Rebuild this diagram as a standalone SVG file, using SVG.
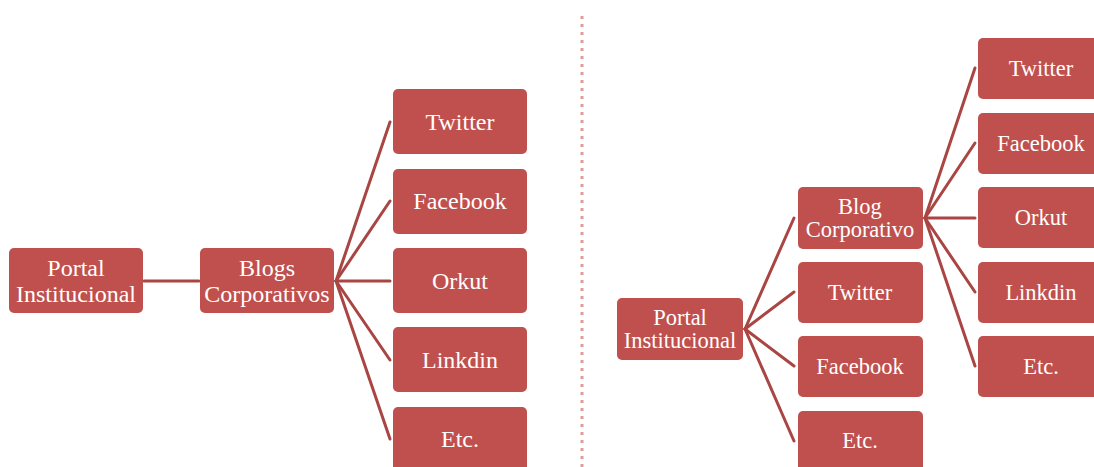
<svg xmlns="http://www.w3.org/2000/svg" width="1094" height="467" viewBox="0 0 1094 467">
  <style>
    .box { fill: #c0504d; }
    .lbl { fill: #ffffff; font-family: "Liberation Serif", "Times New Roman", serif; text-anchor: middle; }
    .l23 { font-size: 24px; }
    .l21 { font-size: 22.5px; }
    .conn { stroke: #a94542; stroke-width: 3; fill: none; stroke-linecap: round; }
    .sep { stroke: #e09c9c; stroke-width: 3; stroke-dasharray: 3 5; fill: none; }
  </style>

  <rect width="1094" height="467" fill="#ffffff"/>

  <!-- vertical separator -->
  <line class="sep" x1="582" y1="16" x2="582" y2="467"/>

  <!-- connectors -->
  <g id="connectors">
    <!-- left tree -->
    <line class="conn" x1="144" y1="281" x2="199" y2="281"/>
    <line class="conn" x1="336" y1="281" x2="390" y2="122"/>
    <line class="conn" x1="336" y1="281" x2="390" y2="201"/>
    <line class="conn" x1="336" y1="281" x2="390" y2="281"/>
    <line class="conn" x1="336" y1="281" x2="390" y2="360"/>
    <line class="conn" x1="336" y1="281" x2="390" y2="439"/>
    <!-- right tree -->
    <line class="conn" x1="745" y1="329" x2="794" y2="218"/>
    <line class="conn" x1="745" y1="329" x2="794" y2="292"/>
    <line class="conn" x1="745" y1="329" x2="794" y2="366"/>
    <line class="conn" x1="745" y1="329" x2="794" y2="441"/>
    <line class="conn" x1="925" y1="218" x2="975" y2="68"/>
    <line class="conn" x1="925" y1="218" x2="975" y2="143"/>
    <line class="conn" x1="925" y1="218" x2="975" y2="218"/>
    <line class="conn" x1="925" y1="218" x2="975" y2="292"/>
    <line class="conn" x1="925" y1="218" x2="975" y2="366"/>
  </g>

  <!-- left tree nodes -->
  <g id="l-portal">
    <rect class="box" x="9" y="248" width="134" height="65" rx="5"/>
    <text class="lbl l23" x="76" y="276">Portal</text>
    <text class="lbl l23" x="76" y="302">Institucional</text>
  </g>
  <g id="l-blogs">
    <rect class="box" x="200" y="248" width="134" height="65" rx="5"/>
    <text class="lbl l23" x="267" y="276">Blogs</text>
    <text class="lbl l23" x="267" y="302">Corporativos</text>
  </g>
  <g id="l-twitter">
    <rect class="box" x="393" y="89" width="134" height="65" rx="5"/>
    <text class="lbl l23" x="460" y="130">Twitter</text>
  </g>
  <g id="l-facebook">
    <rect class="box" x="393" y="169" width="134" height="65" rx="5"/>
    <text class="lbl l23" x="460" y="209">Facebook</text>
  </g>
  <g id="l-orkut">
    <rect class="box" x="393" y="248" width="134" height="65" rx="5"/>
    <text class="lbl l23" x="460" y="289">Orkut</text>
  </g>
  <g id="l-linkdin">
    <rect class="box" x="393" y="327" width="134" height="65" rx="5"/>
    <text class="lbl l23" x="460" y="368">Linkdin</text>
  </g>
  <g id="l-etc">
    <rect class="box" x="393" y="407" width="134" height="65" rx="5"/>
    <text class="lbl l23" x="460" y="447">Etc.</text>
  </g>

  <!-- right tree nodes -->
  <g id="r-portal">
    <rect class="box" x="617" y="298" width="126" height="62" rx="5"/>
    <text class="lbl l21" x="680" y="325">Portal</text>
    <text class="lbl l21" x="680" y="348">Institucional</text>
  </g>
  <g id="r-blog">
    <rect class="box" x="798" y="187" width="125" height="62" rx="5"/>
    <text class="lbl l21" x="860" y="214">Blog</text>
    <text class="lbl l21" x="860" y="237">Corporativo</text>
  </g>
  <g id="r-twitter">
    <rect class="box" x="798" y="262" width="125" height="61" rx="5"/>
    <text class="lbl l21" x="860" y="300">Twitter</text>
  </g>
  <g id="r-facebook">
    <rect class="box" x="798" y="336" width="125" height="61" rx="5"/>
    <text class="lbl l21" x="860" y="374">Facebook</text>
  </g>
  <g id="r-etc">
    <rect class="box" x="798" y="411" width="125" height="61" rx="5"/>
    <text class="lbl l21" x="860" y="448">Etc.</text>
  </g>
  <g id="rr-twitter">
    <rect class="box" x="978" y="38" width="125" height="61" rx="5"/>
    <text class="lbl l21" x="1041" y="76">Twitter</text>
  </g>
  <g id="rr-facebook">
    <rect class="box" x="978" y="113" width="125" height="61" rx="5"/>
    <text class="lbl l21" x="1041" y="151">Facebook</text>
  </g>
  <g id="rr-orkut">
    <rect class="box" x="978" y="187" width="125" height="61" rx="5"/>
    <text class="lbl l21" x="1041" y="225">Orkut</text>
  </g>
  <g id="rr-linkdin">
    <rect class="box" x="978" y="262" width="125" height="61" rx="5"/>
    <text class="lbl l21" x="1041" y="300">Linkdin</text>
  </g>
  <g id="rr-etc">
    <rect class="box" x="978" y="336" width="125" height="61" rx="5"/>
    <text class="lbl l21" x="1041" y="374">Etc.</text>
  </g>
</svg>
